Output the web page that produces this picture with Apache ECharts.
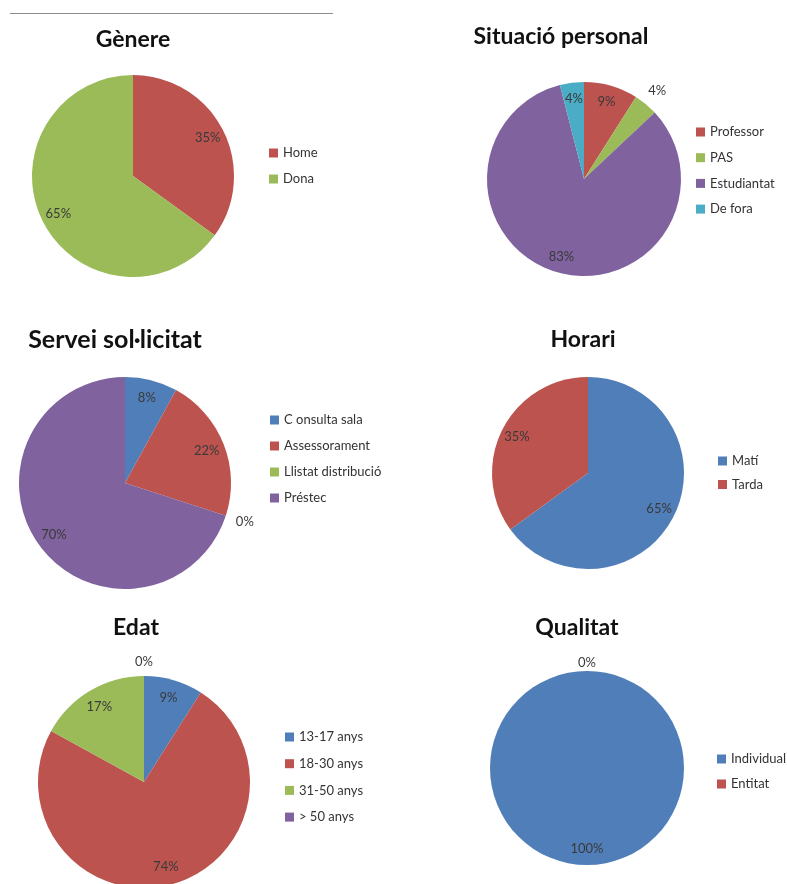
<!DOCTYPE html>
<html>
<head>
<meta charset="utf-8">
<script src="https://cdn.jsdelivr.net/npm/echarts@6/dist/echarts.min.js"></script>
<style>
html,body{margin:0;padding:0;background:#fff;}
#chart{width:787px;height:884px;}
</style>
</head>
<body>
<div id="chart"></div>
<script>
// ---- data ----
const genereTitle = 'Gènere';
const genereCats = ['Home', 'Dona'];
const genereVals = [35, 65];

const situacioTitle = 'Situació personal';
const situacioCats = ['Professor', 'PAS', 'Estudiantat', 'De fora'];
const situacioVals = [9, 4, 83, 4];

const serveiTitle = 'Servei sol·licitat';
const serveiCats = ['C onsulta sala', 'Assessorament', 'Llistat distribució', 'Préstec'];
const serveiVals = [8, 22, 0, 70];

const horariTitle = 'Horari';
const horariCats = ['Matí', 'Tarda'];
const horariVals = [65, 35];

const edatTitle = 'Edat';
const edatCats = ['13-17 anys', '18-30 anys', '31-50 anys', '> 50 anys'];
const edatVals = [9, 74, 17, 0];

const qualitatTitle = 'Qualitat';
const qualitatCats = ['Individual', 'Entitat'];
const qualitatVals = [100, 0];

// ---- style ----
const RED = '#BC534F', GREEN = '#9BBB59', PURPLE = '#7F629E', TEAL = '#4BACC6', BLUE = '#4F7EB8';
const FONT = 'Lato, "Open Sans", sans-serif';

const charts = [
  { title: genereTitle, cats: genereCats, vals: genereVals, colors: [RED, GREEN],
    outside: [], tx: 133, ty: 40, ts: 23, cx: 133, cy: 176, r: 101, d: 12,
    lx: 269, ly: 153, gap: 26 },
  { title: situacioTitle, cats: situacioCats, vals: situacioVals, colors: [RED, GREEN, PURPLE, TEAL],
    outside: ['PAS'], tx: 561, ty: 37, ts: 23, cx: 584, cy: 179, r: 97, d: 15,
    lx: 696, ly: 132, gap: 25.7 },
  { title: serveiTitle, cats: serveiCats, vals: serveiVals, colors: [BLUE, RED, GREEN, PURPLE],
    outside: ['Llistat distribució'], tx: 115, ty: 340, ts: 25, cx: 125, cy: 483, r: 106, d: 17,
    lx: 270, ly: 420, gap: 26 },
  { title: horariTitle, cats: horariCats, vals: horariVals, colors: [BLUE, RED],
    outside: [], tx: 583, ty: 340, ts: 23, cx: 588, cy: 473, r: 96, d: 12,
    lx: 718, ly: 461, gap: 23.5 },
  { title: edatTitle, cats: edatCats, vals: edatVals, colors: [BLUE, RED, GREEN, PURPLE],
    outside: ['> 50 anys'], tx: 136, ty: 628, ts: 23, cx: 144, cy: 782, r: 106, d: 11,
    lx: 285, ly: 737, gap: 26.7 },
  { title: qualitatTitle, cats: qualitatCats, vals: qualitatVals, colors: [BLUE, RED],
    outside: ['Entitat'], tx: 577, ty: 628, ts: 23, cx: 587, cy: 768, r: 97, d: 5,
    lx: 717, ly: 759, gap: 25 }
];

const titles = [], legends = [], series = [];
const labelStyle = { fontSize: 13, fontFamily: FONT, color: '#3a3a3a' };

charts.forEach(function (c) {
  titles.push({
    text: c.title, left: c.tx, top: c.ty, textAlign: 'center', textVerticalAlign: 'middle', padding: 0,
    textStyle: { fontSize: c.ts, fontWeight: 'bold', fontFamily: FONT, color: '#111' }
  });
  legends.push({
    orient: 'vertical', left: c.lx, top: c.ly - 8, padding: 0,
    itemWidth: 9, itemHeight: 9, itemGap: c.gap - 16, icon: 'rect',
    selectedMode: false,
    textStyle: { fontSize: 13, lineHeight: 16, fontFamily: FONT, color: '#333' },
    data: c.cats.map(function (n, i) { return { name: n, itemStyle: { color: c.colors[i] } }; })
  });
  // main pie
  series.push({
    type: 'pie', center: [c.cx, c.cy], radius: [0, c.r], startAngle: 90, clockwise: true,
    avoidLabelOverlap: false, silent: true,
    label: { show: false }, labelLine: { show: false },
    itemStyle: { borderWidth: 0 },
    data: c.cats.map(function (n, i) {
      return { name: n, value: c.vals[i], itemStyle: { color: c.colors[i] } };
    })
  });
  // inner labels (at ~0.8 r)
  series.push({
    type: 'pie', center: [c.cx, c.cy], radius: [0, c.r * 1.6], startAngle: 90, clockwise: true,
    avoidLabelOverlap: false, silent: true, z: 5,
    label: Object.assign({ show: true, position: 'inside', formatter: '{d}%' }, labelStyle),
    labelLine: { show: false },
    itemStyle: { color: 'rgba(0,0,0,0)', borderWidth: 0 },
    data: c.cats.map(function (n, i) {
      return { name: n, value: c.vals[i], label: { show: c.outside.indexOf(n) < 0 } };
    })
  });
  // outer labels (just beyond the edge)
  series.push({
    type: 'pie', center: [c.cx, c.cy], radius: [0, 2 * (c.r + c.d)], startAngle: 90, clockwise: true,
    avoidLabelOverlap: false, silent: true, z: 5,
    label: Object.assign({ show: true, position: 'inside', formatter: '{d}%' }, labelStyle),
    labelLine: { show: false },
    itemStyle: { color: 'rgba(0,0,0,0)', borderWidth: 0 },
    data: c.cats.map(function (n, i) {
      return { name: n, value: c.vals[i], label: { show: c.outside.indexOf(n) >= 0 } };
    })
  });
});

const chart = echarts.init(document.getElementById('chart'), null, { renderer: 'canvas' });
chart.setOption({
  backgroundColor: '#fff',
  animation: false,
  title: titles,
  legend: legends,
  series: series,
  graphic: [{
    type: 'line', shape: { x1: 10, y1: 13.5, x2: 333, y2: 13.5 },
    style: { stroke: '#8c8c8c', lineWidth: 1 }, silent: true
  }]
});
</script>
</body>
</html>
